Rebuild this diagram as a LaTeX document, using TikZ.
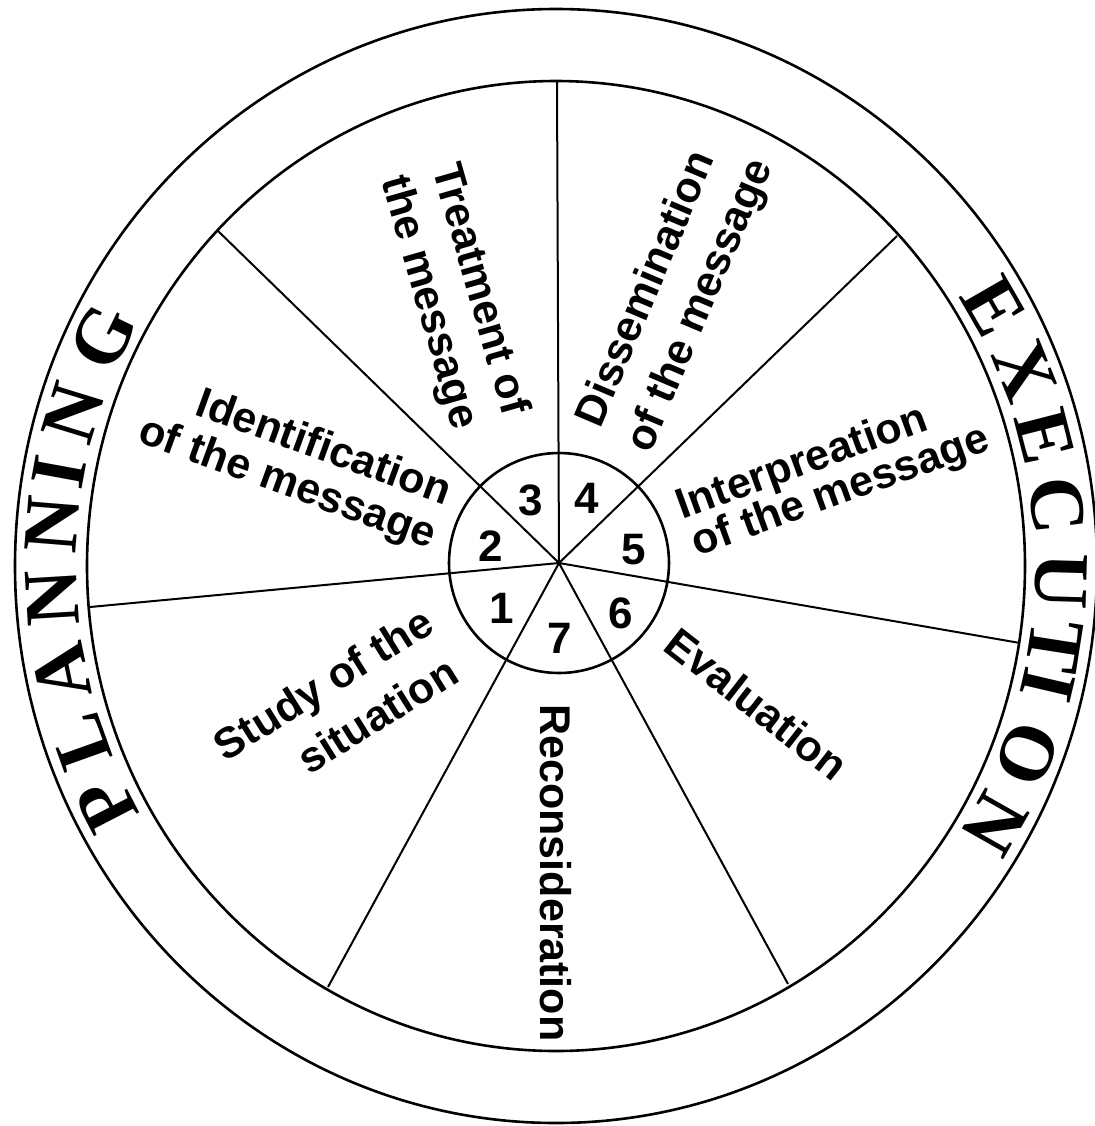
\documentclass[tikz,border=0pt]{standalone}
\usepackage{fontspec}
\setmainfont{Liberation Sans}
\newfontfamily\ringfont{Liberation Serif}
\begin{document}
\begin{tikzpicture}[x=0.25pt,y=0.25pt,
  ringline/.style={line width=0.65pt},
  spoke/.style={line width=0.5pt},
  lbl/.style={inner sep=0pt,font=\fontsize{10.75}{12.25}\selectfont\bfseries},
  num/.style={inner sep=0pt,font=\fontsize{11}{12}\selectfont\bfseries},
  ringletter/.style={inner sep=0pt,font=\fontsize{19.5}{22}\selectfont\ringfont\bfseries}]
\useasboundingbox (0,0) rectangle (1094,-1126);
\coordinate (C) at (556,-566);
\coordinate (H) at (559,-563);
% rings
\draw[ringline] (C) ellipse [x radius=541, y radius=557];
\draw[ringline] (C) ellipse [x radius=469, y radius=485];
\draw[ringline] (H) circle [radius=110];
% spoke ends
\coordinate (s1) at (557,-82);
\coordinate (s2) at (217,-230);
\coordinate (s3) at (90,-607);
\coordinate (s4) at (328,-987);
\coordinate (s5) at (788,-984);
\coordinate (s6) at (1020,-643);
\coordinate (s7) at (897,-236);
\foreach \s in {s1,s2,s3,s4,s5,s6,s7} \draw[spoke] (H) -- (\s);
% numbers
\node[num] (n1) at (502,-608) {1};
\node[num] (n2) at (491,-546) {2};
\node[num] (n3) at (531,-500) {3};
\node[num] (n4) at (587,-498) {4};
\node[num] (n5) at (634,-550) {5};
\node[num] (n6) at (621,-613) {6};
\node[num] (n7) at (560,-638) {7};
% labels
\node[lbl,rotate=-20,anchor=base east] (id1) at (446,-506) {Identification};
\node[lbl,rotate=-20,anchor=base east] (id2) at (431,-549) {of the message};
\node[lbl,rotate=-74,anchor=base west] (tr1) at (432,-168) {Treatment of};
\node[lbl,rotate=-74,anchor=base west] (tr2) at (381,-180) {the message};
\node[lbl,rotate=67,anchor=base west] (di1) at (600,-430) {Dissemination};
\node[lbl,rotate=67,anchor=base west] (di2) at (650,-455) {of the message};
\node[lbl,rotate=20,anchor=base west] (in1) at (682,-520) {Interpreation};
\node[lbl,rotate=20,anchor=base west] (in2) at (697,-557) {of the message};
\node[lbl,rotate=-38] (ev) at (757,-704) {Evaluation};
\node[lbl,rotate=-90] (re) at (556,-873) {Reconsideration};
\node[lbl,rotate=32,anchor=base east] (st1) at (437,-630) {Study of the};
\node[lbl,rotate=32,anchor=base east] (st2) at (462,-680) {situation};
% ring words
\foreach \a/\l in {207.3/P,199.7/L,191.7/A,183.5/N,175.4/N,169.6/I,162.9/N,153.9/G}
  \path (C) ++(\a:505 and 521) node[ringletter,rotate=\a-90] {\l};
\foreach \a/\l in {29.9/E,22.0/X,14.4/E,6.7/C,-1.65/U,-8.9/T,-13.2/I,-21.1/O,-29.6/N}
  \path (C) ++(\a:505 and 521) node[ringletter,rotate=\a-90] {\l};
\end{tikzpicture}
\end{document}
